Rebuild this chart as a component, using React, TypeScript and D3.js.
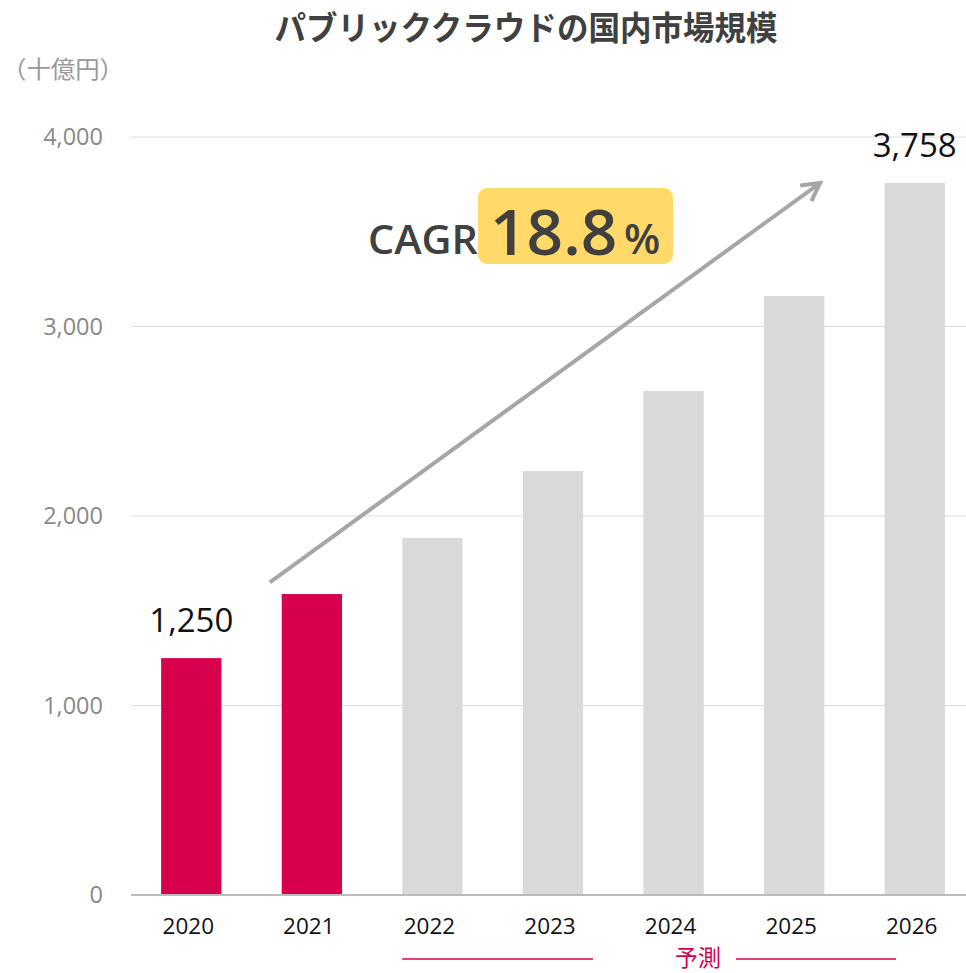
import React from "react";
import * as d3 from "d3";

const years = ["2020", "2021", "2022", "2023", "2024", "2025", "2026"];
const values = [1250, 1588, 1884, 2237, 2660, 3161, 3758];
const actualYears = ["2020", "2021"];
const yTicks = [0, 1000, 2000, 3000, 4000];
const labeledYears = ["2020", "2026"];
const title = "パブリッククラウドの国内市場規模";
const unitLabel = "（十億円）";
const forecastLabel = "予測";
const cagrValue = "18.8";

const W = 966;
const H = 973;

export default function App() {
  const x = d3.scaleBand().domain(years).range([131, 975]).paddingInner(0.5).paddingOuter(0.25);
  const y = d3.scaleLinear().domain([0, 4000]).range([895, 137]);
  const fmt = d3.format(",");
  const bw = x.bandwidth();
  const cx = (yr: string) => (x(yr) as number) + bw / 2;
  const sans = "'Open Sans', 'Noto Sans', 'Noto Sans CJK JP', sans-serif";
  const jp = "'Noto Sans CJK JP', sans-serif";

  const ax0 = cx("2021") - 42, ay0 = y(1650);
  const ax1 = 820, ay1 = 183;
  const ang = Math.atan2(ay1 - ay0, ax1 - ax0);
  const hl = 20;
  const h1 = [ax1 - hl * Math.cos(ang - 0.5), ay1 - hl * Math.sin(ang - 0.5)];
  const h2 = [ax1 - hl * Math.cos(ang + 0.5), ay1 - hl * Math.sin(ang + 0.5)];

  return (
    <svg width={W} height={H} style={{ position: "absolute", left: 0, top: 0, background: "#fff" }}>
      <text x={526} y={40} textAnchor="middle" fontFamily={jp} fontWeight={700} fontSize={33}
        fill="#404040" textLength={503} lengthAdjust="spacingAndGlyphs">{title}</text>
      <text x={2} y={78} fontFamily={jp} fontSize={24} fill="#999" textLength={122} lengthAdjust="spacingAndGlyphs">{unitLabel}</text>

      {yTicks.map((t) => (
        <g key={t}>
          <line x1={131} x2={966} y1={y(t)} y2={y(t)} stroke={t === 0 ? "#bbb" : "#dcdcdc"} strokeWidth={t === 0 ? 2 : 1} />
          <text x={103} y={y(t) + 8} textAnchor="end" fontFamily={sans} fontSize={23.5} fill="#888">{fmt(t)}</text>
        </g>
      ))}

      {years.map((yr, i) => (
        <rect key={yr} x={x(yr)} y={y(values[i])} width={bw} height={y(0) - y(values[i])}
          fill={actualYears.includes(yr) ? "#d6004f" : "#d9d9d9"} />
      ))}
      <line x1={131} x2={966} y1={y(0)} y2={y(0)} stroke="#bbb" strokeWidth={2} />

      {years.map((yr) => (
        <text key={yr} x={cx(yr) - 3} y={934} textAnchor="middle" fontFamily={sans} fontSize={22.5} fill="#111">{yr}</text>
      ))}

      {years.map((yr, i) =>
        labeledYears.includes(yr) ? (
          <text key={yr} x={cx(yr)} y={y(values[i]) - 26} textAnchor="middle" fontFamily={sans} fontSize={33} fill="#111">
            {fmt(values[i])}
          </text>
        ) : null
      )}

      <line x1={x("2022") as number} x2={593} y1={959} y2={959} stroke="#d6004f" strokeWidth={1.5} />
      <line x1={736} x2={896} y1={959} y2={959} stroke="#d6004f" strokeWidth={1.5} />
      <text x={698} y={966} textAnchor="middle" fontFamily={jp} fontSize={23} fill="#d6004f">{forecastLabel}</text>

      <line x1={ax0} y1={ay0} x2={ax1 - 3 * Math.cos(ang)} y2={ay1 - 3 * Math.sin(ang)} stroke="#a6a6a6" strokeWidth={4} />
      <polyline points={`${h1[0]},${h1[1]} ${ax1},${ay1} ${h2[0]},${h2[1]}`} fill="none" stroke="#a6a6a6" strokeWidth={4} strokeLinejoin="miter" />

      <rect x={478} y={188} width={195} height={76} rx={9} fill="#ffda6a" />
      <text x={368} y={254} fontFamily={sans} fontWeight={600} fontSize={40} fill="#404040" textLength={110} lengthAdjust="spacingAndGlyphs">CAGR</text>
      <text x={490} y={255} fontFamily={sans} fontWeight={600} fontSize={64} fill="#404040">{cagrValue}</text>
      <text x={624} y={254} fontFamily={sans} fontWeight={600} fontSize={42} fill="#404040">%</text>
    </svg>
  );
}
